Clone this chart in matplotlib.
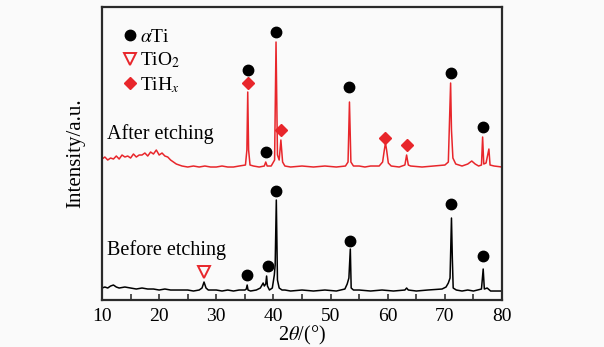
import matplotlib
matplotlib.use("Agg")
import matplotlib.pyplot as plt
from matplotlib.ticker import MultipleLocator

plt.rcParams["font.family"] = ["Liberation Serif", "DejaVu Serif"]
plt.rcParams["mathtext.fontset"] = "stix"

RED = "#e8262b"

# after etching (red), intensity in arbitrary units
after_x = [10, 10.5, 11, 11.5, 12, 12.5, 13, 13.5, 14, 14.5, 15, 15.5, 16, 16.5, 17,
           17.5, 18, 18.5, 19, 19.5, 20, 20.5, 21, 21.5, 22, 22.5, 23, 23.5, 24, 25,
           26, 27, 28, 29, 30, 31, 32, 33, 34, 35.1, 35.35, 35.5, 35.65, 35.9, 36.5,
           37.5, 38.4, 38.65, 38.9, 39.6, 40.2, 40.45, 40.7, 41.0, 41.3, 41.6, 42,
           43, 45, 47, 49, 51, 52.6, 53.05, 53.3, 53.55, 54, 55, 56, 57, 58.5, 59.1,
           59.4, 59.6, 59.8, 60.1, 60.6, 62, 63.0, 63.3, 63.6, 64, 66, 68, 70, 70.6,
           71.0, 71.15, 71.4, 71.9, 73, 74, 74.7, 75.3, 75.9, 76.4, 76.6, 76.8, 77.2,
           77.7, 77.9, 78.6, 80]
after_y = [141, 143, 140, 142, 141, 144, 141, 145, 143, 144, 142, 146, 143, 145, 145,
           147, 144, 148, 146, 150, 145, 147, 144, 143, 140, 138, 136, 135, 134, 133,
           134, 133, 134, 133, 133, 134, 133, 133, 134, 135, 150, 208, 150, 135, 134,
           133, 134, 138, 134, 134, 140, 258, 145, 140, 160, 138, 134,
           133, 134, 133, 134, 133, 134, 138, 198, 138, 134, 134, 133, 134, 134, 138,
           150, 157, 150, 137, 134, 133, 135, 145, 135, 134, 133, 134, 135, 138,
           217, 170, 142, 136, 134, 136, 139, 136, 134, 135, 163, 136, 137,
           151, 135, 134, 133]

# before etching (black)
before_x = [10, 10.5, 11, 11.5, 12, 12.5, 13, 14, 15, 16, 17, 18, 19, 20, 21, 22, 23,
            24, 25, 26, 27, 27.5, 27.85, 28.2, 28.6, 30, 31, 32, 33, 34, 35, 35.25,
            35.4, 35.55, 36, 37, 37.7, 38.0, 38.2, 38.4, 38.65, 38.8, 38.95, 39.3,
            39.8, 40.15, 40.3, 40.5, 40.7, 41.0, 41.5, 42, 43, 45, 47, 49, 51, 52.5,
            52.9, 53.2, 53.45, 53.6, 54, 55, 57, 59, 61, 63, 63.3, 63.6, 65, 67,
            69.5, 70.2, 70.6, 70.9, 71.15, 71.3, 71.45, 72, 73, 74, 75, 76.4, 76.7,
            76.9, 77.4, 77.6, 78, 79, 80]
before_y = [12, 13, 12, 14, 15, 13, 12, 13, 12, 11, 12, 11, 11, 10, 11, 10, 10,
            10, 10, 9, 10, 12, 18, 12, 10, 10, 9, 10, 9, 10, 10, 11,
            15, 10, 9, 10, 12, 15, 17, 14, 16, 24, 14, 10,
            12, 25, 35, 100, 20, 12, 10, 10, 9, 10, 9, 10, 9, 11,
            16, 22, 51, 12, 10, 10, 9, 10, 9, 10, 12, 10, 9, 10,
            11, 13, 17, 22, 82, 42, 12, 10, 9, 10, 9, 11, 31,
            11, 12, 11, 9, 9, 9]

# phase markers
ti_x = [35.5, 38.65, 40.45, 53.3, 71.0, 76.6, 35.4, 39.0, 40.5, 53.45, 71.1, 76.7]
ti_y = [230, 148, 268, 213, 227, 173, 25, 34, 109, 59, 96, 44]
tio2_x = [27.85]
tio2_y = [28]
tih_x = [35.5, 41.3, 59.6, 63.3]
tih_y = [217, 170, 162, 155]

fig = plt.figure(figsize=(6.04, 3.47), dpi=100, facecolor="#fafafa")
ax = fig.add_axes([0.1689, 0.1354, 0.6623, 0.8444])
ax.set_facecolor("#fafafa")

ax.plot(after_x, after_y, color=RED, lw=1.1)
ax.plot(before_x, before_y, color="black", lw=1.1)

ax.plot(ti_x, ti_y, "o", color="black", ms=7.5, label=r"$\alpha$Ti")
ax.plot(tio2_x, tio2_y, "v", mfc="none", mec=RED, mew=1.4, ms=8, label=r"TiO$_2$")
ax.plot(tih_x, tih_y, "D", color=RED, ms=6, label=r"TiH$_x$")

ax.text(10.9, 166, "After etching", fontsize=14.5, va="center", ha="left")
ax.text(10.9, 50, "Before etching", fontsize=14.5, va="center", ha="left")

leg = ax.legend(loc="upper left", bbox_to_anchor=(0.025, 0.955), frameon=False,
                fontsize=14, handletextpad=0.05, labelspacing=0.25,
                handlelength=1.0, borderaxespad=0)

ax.set_xlim(10, 80)
ax.set_ylim(0, 293)
ax.xaxis.set_major_locator(MultipleLocator(10))
ax.xaxis.set_minor_locator(MultipleLocator(5))
ax.tick_params(axis="x", which="both", direction="in", length=4, width=1.2,
               labelsize=14, pad=6, color="#333333")
ax.set_yticks([])
for s in ax.spines.values():
    s.set_linewidth(1.6)
    s.set_color("#2a2a2a")

ax.set_xlabel(r"2$\it{\theta}$/(°)", fontsize=14.5, labelpad=-1)
ax.set_ylabel("Intensity/a.u.", fontsize=15, labelpad=12)

fig.savefig("out.png", dpi=100, facecolor=fig.get_facecolor())
